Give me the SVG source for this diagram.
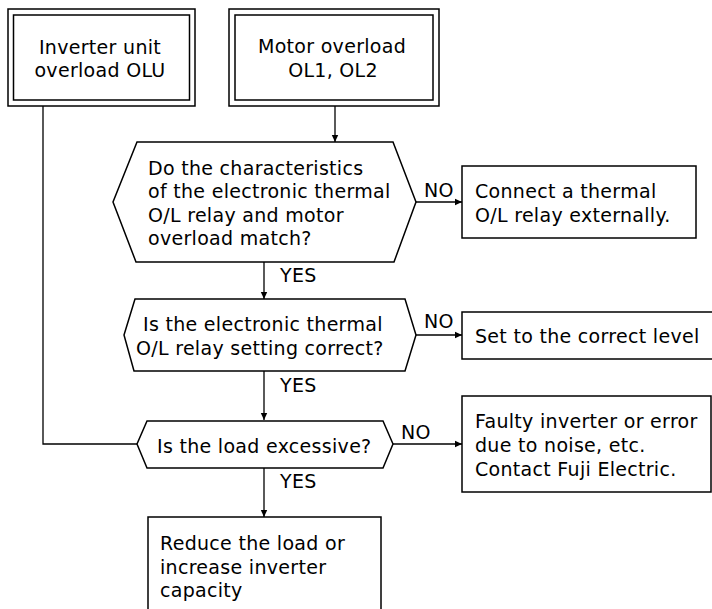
<svg xmlns="http://www.w3.org/2000/svg" width="712" height="609" viewBox="0 0 712 609">
<style>
.s{fill:#fff;stroke:#000;stroke-width:1.5}
.t{font-family:"DejaVu Sans",sans-serif;font-size:19px;letter-spacing:0.3px;fill:#000}
.c{text-anchor:middle}
.l{fill:none;stroke:#000;stroke-width:1.3}
</style>
<defs>
<marker id="a" markerWidth="8" markerHeight="8" refX="7" refY="4" orient="auto" markerUnits="userSpaceOnUse">
<path d="M0,0.8 L7,4 L0,7.2 Z" fill="#000"/>
</marker>
</defs>
<rect width="712" height="609" fill="#fff"/>
<g id="connectors">
<path class="l" d="M43,106 V444 H137"/>
<path class="l" d="M335,106 V142" marker-end="url(#a)"/>
<path class="l" d="M264,262 V299" marker-end="url(#a)"/>
<path class="l" d="M264,371 V420" marker-end="url(#a)"/>
<path class="l" d="M264,468 V517" marker-end="url(#a)"/>
<path class="l" d="M416,202 H462" marker-end="url(#a)"/>
<path class="l" d="M416,335 H462" marker-end="url(#a)"/>
<path class="l" d="M393,444 H462" marker-end="url(#a)"/>
<text class="t" x="280" y="282">YES</text>
<text class="t" x="280" y="392">YES</text>
<text class="t" x="280" y="488">YES</text>
<text class="t" x="424" y="197">NO</text>
<text class="t" x="424" y="328">NO</text>
<text class="t" x="401" y="439">NO</text>
</g>
<g id="olu">
<rect class="s" x="8" y="9" width="187" height="97"/>
<rect class="s" x="13.5" y="15" width="176" height="85"/>
<text class="t c" x="100" y="54">Inverter unit</text>
<text class="t c" x="100" y="77">overload OLU</text>
</g>
<g id="motor">
<rect class="s" x="229" y="9" width="210" height="97"/>
<rect class="s" x="235" y="15" width="198" height="85"/>
<text class="t c" x="332" y="53">Motor overload</text>
<text class="t c" x="333" y="77">OL1, OL2</text>
</g>
<g id="q1">
<polygon class="s" points="137,142 393,142 416,202 394,262 136,262 113,202"/>
<text class="t" x="148" y="175">Do the characteristics</text>
<text class="t" x="148" y="198">of the electronic thermal</text>
<text class="t" x="148" y="222">O/L relay and motor</text>
<text class="t" x="148" y="245">overload match?</text>
</g>
<g id="r1">
<rect class="s" x="462" y="166" width="234" height="72"/>
<text class="t" x="475" y="198">Connect a thermal</text>
<text class="t" x="475" y="222">O/L relay externally.</text>
</g>
<g id="q2">
<polygon class="s" points="135,299 405,299 416,335 405,371 134,371 124,335"/>
<text class="t" x="143" y="331">Is the electronic thermal</text>
<text class="t" x="136" y="355">O/L relay setting correct?</text>
</g>
<g id="r2">
<rect class="s" x="462" y="312" width="260" height="47"/>
<text class="t" x="475" y="343">Set to the correct level</text>
</g>
<g id="q3">
<polygon class="s" points="147,421 383,421 393,444 383,468 147,468 137,444"/>
<text class="t" x="157" y="453">Is the load excessive?</text>
</g>
<g id="r3">
<rect class="s" x="462" y="396" width="249" height="96"/>
<text class="t" x="475" y="428">Faulty inverter or error</text>
<text class="t" x="475" y="452">due to noise, etc.</text>
<text class="t" x="475" y="476">Contact Fuji Electric.</text>
</g>
<g id="r4">
<rect class="s" x="148" y="517" width="233" height="110"/>
<text class="t" x="160" y="550">Reduce the load or</text>
<text class="t" x="160" y="574">increase inverter</text>
<text class="t" x="160" y="597">capacity</text>
</g>
</svg>
